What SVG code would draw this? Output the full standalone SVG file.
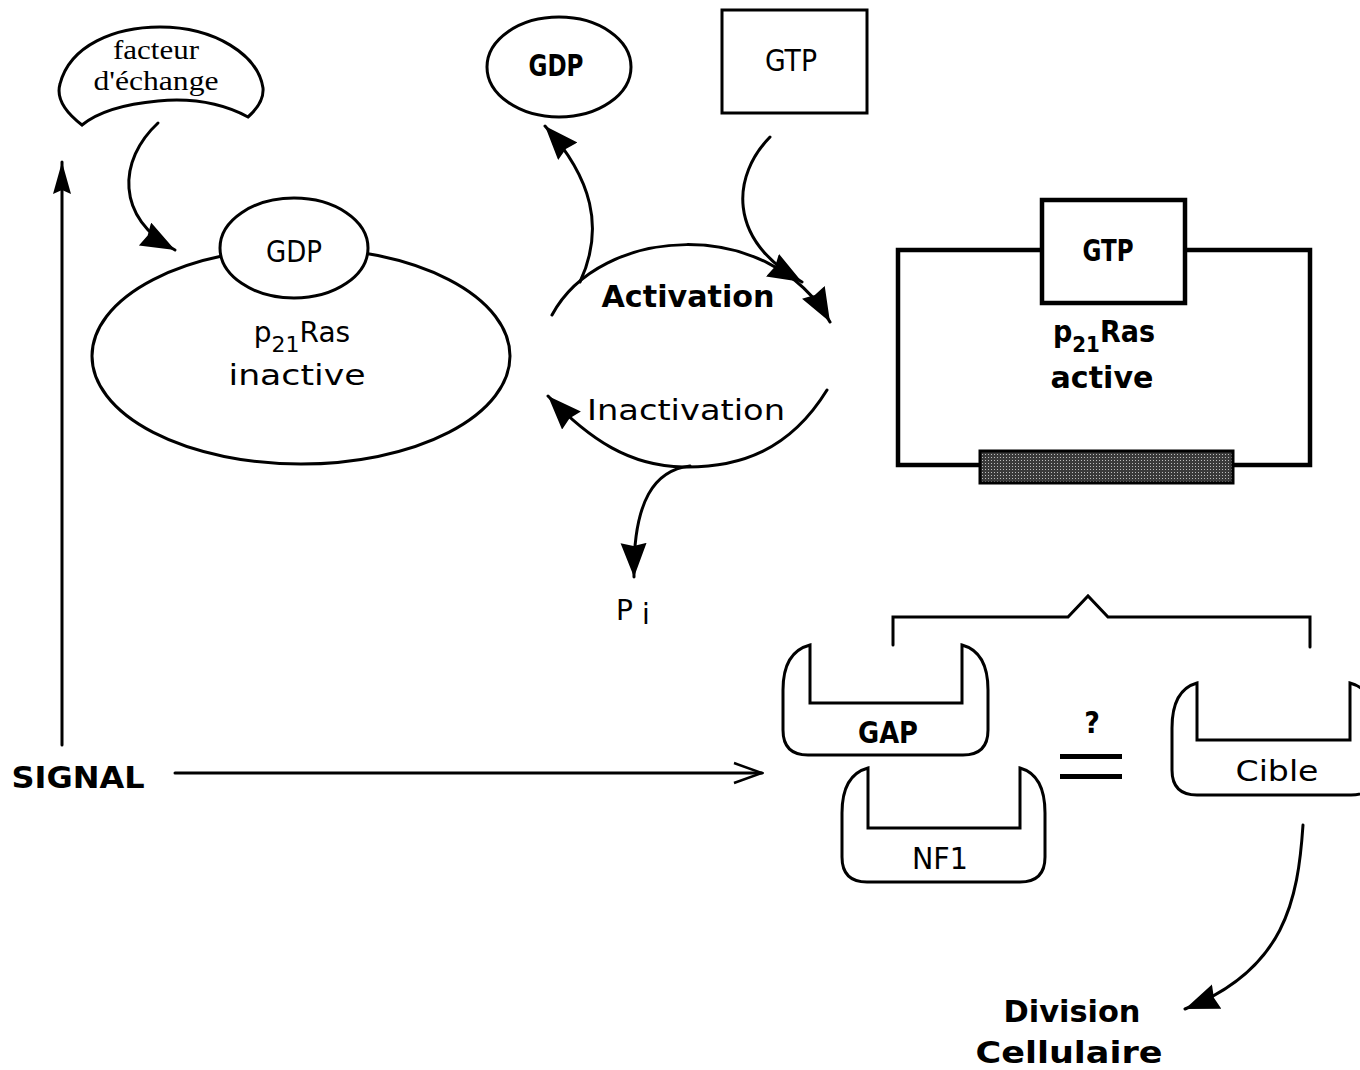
<svg xmlns="http://www.w3.org/2000/svg" width="1360" height="1070" viewBox="0 0 1360 1070">
  <style>
    .ln { fill: none; stroke: #000; stroke-width: 3; stroke-linecap: round; }
    .shape { fill: #fff; stroke: #000; stroke-width: 3; }
    .thick { fill: #fff; stroke: #000; stroke-width: 4.5; }
    .serif { font-family: "Liberation Serif", "Times New Roman", serif; font-size: 28px; fill: #000; }
    .geneva { font-family: "DejaVu Sans", Verdana, sans-serif; font-size: 28px; fill: #000; }
    .cond { font-family: "DejaVu Sans Condensed", "DejaVu Sans", sans-serif; font-size: 30px; fill: #000; }
    .bold { font-family: "DejaVu Sans Condensed", "DejaVu Sans", sans-serif; font-weight: bold; font-size: 30px; fill: #000; }
  </style>
  <defs>
    <marker id="head" markerUnits="userSpaceOnUse" markerWidth="36" markerHeight="28" refX="34" refY="13" orient="auto">
      <path d="M0,0 L34,13 L0,26 L3,13 Z" fill="#000"/>
    </marker>
    <marker id="thin" markerUnits="userSpaceOnUse" markerWidth="34" markerHeight="24" refX="32" refY="12" orient="auto">
      <path d="M4,2 L32,12 L4,22" fill="none" stroke="#000" stroke-width="2.5"/>
    </marker>
    <marker id="up" markerUnits="userSpaceOnUse" markerWidth="34" markerHeight="20" refX="32" refY="10" orient="auto">
      <path d="M0,1 L32,10 L0,19 L4,10 Z" fill="#000"/>
    </marker>
    <pattern id="stipple" width="3" height="3" patternUnits="userSpaceOnUse">
      <rect width="3" height="3" fill="#3a3a3a"/>
      <rect x="1" y="1" width="1" height="1" fill="#bdbdbd"/>
    </pattern>
  </defs>

  <!-- exchange factor -->
  <g id="facteur">
    <path class="shape" d="M82,125 C65,112 56,98 60,84 C70,45 115,27 160,27 C215,27 258,55 263,88 C264,100 256,110 248,117 C220,102 190,98 158,101 C125,104 98,112 82,125 Z"/>
    <text class="serif" x="156" y="59" text-anchor="middle" textLength="86" lengthAdjust="spacingAndGlyphs">facteur</text>
    <text class="serif" x="156" y="90" text-anchor="middle" textLength="125" lengthAdjust="spacingAndGlyphs">d'échange</text>
  </g>

  <!-- inactive p21Ras with bound GDP -->
  <g id="ras-inactive">
    <ellipse class="shape" cx="301" cy="356" rx="209" ry="108"/>
    <ellipse class="shape" cx="294" cy="248" rx="74" ry="50"/>
    <text class="cond" x="294" y="262" text-anchor="middle" textLength="56" lengthAdjust="spacingAndGlyphs">GDP</text>
    <text class="geneva" x="302" y="342" text-anchor="middle">p<tspan font-size="22" dy="10">21</tspan><tspan dy="-10">Ras</tspan></text>
    <text class="geneva" x="297" y="385" text-anchor="middle" textLength="137" lengthAdjust="spacingAndGlyphs">inactive</text>
  </g>

  <!-- free GDP -->
  <g id="gdp">
    <ellipse class="shape" cx="559" cy="67" rx="72" ry="50"/>
    <text class="bold" x="556" y="76" text-anchor="middle" textLength="55" lengthAdjust="spacingAndGlyphs" font-size="28">GDP</text>
  </g>

  <!-- free GTP -->
  <g id="gtp">
    <rect class="shape" x="722" y="10" width="145" height="103"/>
    <text class="cond" x="791" y="71" text-anchor="middle" textLength="52" lengthAdjust="spacingAndGlyphs" font-size="28">GTP</text>
  </g>

  <!-- active p21Ras with bound GTP -->
  <g id="ras-active">
    <rect class="thick" x="898" y="250" width="412" height="215"/>
    <rect class="thick" x="1042" y="200" width="143" height="103"/>
    <text class="bold" x="1108" y="261" text-anchor="middle" textLength="51" lengthAdjust="spacingAndGlyphs" font-size="28">GTP</text>
    <text class="bold" x="1104" y="342" text-anchor="middle">p<tspan font-size="22" dy="10">21</tspan><tspan dy="-10">Ras</tspan></text>
    <text class="bold" x="1102" y="388" text-anchor="middle" textLength="103" lengthAdjust="spacingAndGlyphs">active</text>
    <rect x="980" y="451" width="253" height="32" fill="url(#stipple)" stroke="#000" stroke-width="3"/>
  </g>

  <!-- GAP -->
  <g id="gap">
    <path class="shape" d="M810,645 L810,703 L962,703 L962,645 Q988,652 988,690 L988,730 Q988,755 963,755 L808,755 Q783,755 783,730 L783,690 Q783,652 810,645 Z"/>
    <text class="bold" x="888" y="743" text-anchor="middle" textLength="60" lengthAdjust="spacingAndGlyphs" font-size="28">GAP</text>
  </g>

  <!-- NF1 -->
  <g id="nf1">
    <path class="shape" d="M868,768 L868,828 L1020,828 L1020,768 Q1045,775 1045,813 L1045,857 Q1045,882 1020,882 L867,882 Q842,882 842,857 L842,813 Q842,775 868,768 Z"/>
    <text class="cond" x="940" y="869" text-anchor="middle" textLength="56" lengthAdjust="spacingAndGlyphs" font-size="28">NF1</text>
  </g>

  <!-- equivalence sign -->
  <g id="equiv">
    <text class="bold" x="1092" y="733" text-anchor="middle" font-size="24">?</text>
    <rect x="1060" y="754" width="62" height="5" fill="#000"/>
    <rect x="1060" y="774" width="62" height="5" fill="#000"/>
  </g>

  <!-- target -->
  <g id="cible">
    <path class="shape" d="M1197,683 L1197,740 L1350,740 L1350,683 Q1376,690 1376,728 L1376,770 Q1376,795 1351,795 L1197,795 Q1172,795 1172,770 L1172,728 Q1172,690 1197,683 Z"/>
    <text class="geneva" x="1277" y="781" text-anchor="middle" textLength="83" lengthAdjust="spacingAndGlyphs">Cible</text>
  </g>

  <!-- labels -->
  <g id="labels">
    <text class="bold" x="78" y="788" text-anchor="middle" textLength="133" lengthAdjust="spacingAndGlyphs" font-size="28">SIGNAL</text>
    <text class="bold" x="688" y="307" text-anchor="middle" textLength="173" lengthAdjust="spacingAndGlyphs" font-size="30">Activation</text>
    <text class="geneva" x="686" y="420" text-anchor="middle" textLength="198" lengthAdjust="spacingAndGlyphs">Inactivation</text>
    <text class="geneva" x="616" y="620">P</text>
    <text class="geneva" x="642" y="624" font-size="22">i</text>
    <text class="bold" x="1072" y="1022" text-anchor="middle" textLength="137" lengthAdjust="spacingAndGlyphs" font-size="30">Division</text>
    <text class="bold" x="1069" y="1063" text-anchor="middle" textLength="187" lengthAdjust="spacingAndGlyphs" font-size="30">Cellulaire</text>
  </g>

  <!-- connectors -->
  <g id="connectors">
    <path class="ln" d="M158,123 C118,160 115,218 175,250" marker-end="url(#head)"/>
    <path class="ln" d="M62,745 L62,162" stroke-width="2.5" marker-end="url(#up)"/>
    <path class="ln" d="M552,315 C600,225 770,215 830,322" marker-end="url(#head)"/>
    <path class="ln" d="M580,282 C605,228 592,178 545,126" marker-end="url(#head)"/>
    <path class="ln" d="M770,137 C733,175 725,238 802,282" marker-end="url(#head)"/>
    <path class="ln" d="M827,390 C790,450 740,468 683,467 C630,466 590,440 548,396" marker-end="url(#head)"/>
    <path class="ln" d="M690,466 C655,470 633,500 634,577" marker-end="url(#head)"/>
    <path class="ln" d="M175,773 L762,773" stroke-width="2.5" marker-end="url(#thin)"/>
    <path class="ln" d="M893,645 L893,617 L1068,617 L1088,596 L1108,617 L1310,617 L1310,647" stroke-width="2.5" stroke-linejoin="miter" stroke-linecap="butt"/>
    <path class="ln" d="M1303,825 C1298,900 1285,970 1185,1009" stroke-width="4" marker-end="url(#head)"/>
  </g>
</svg>
